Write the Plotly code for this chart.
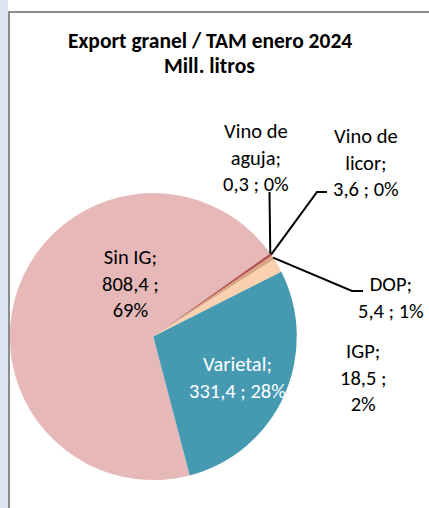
import math
import plotly.graph_objects as go

W, H = 429, 508

# ---- data ----
categories = ["Sin IG", "Vino de aguja", "Vino de licor", "DOP", "IGP", "Varietal"]
values = [808.4, 0.3, 3.6, 5.4, 18.5, 331.4]
percents = [69, 0, 0, 1, 2, 28]
colors = ["#E6B9B8", "#8E3B3B", "#B4504D", "#D9A584", "#F9D0B0", "#4599B1"]

title_lines = ["Export granel / TAM enero 2024", "Mill. litros"]

# label text layout (line breaks) per category
label_tpl = [
    "{n};<br>{v} ;<br>{p}%",
    "Vino de<br>aguja;<br>{v} ; {p}%",
    "Vino de<br>licor;<br>{v} ; {p}%",
    "{n};<br>{v} ; {p}%",
    "{n};<br>{v} ;<br>{p}%",
    "{n};<br>{v} ; {p}%",
]
# label centres in pixels
label_pos = [(130, 283), (256, 157.5), (365.5, 162.5), (391, 297.5), (363, 377), (237.5, 377)]
label_col = ["#000000"] * 5 + ["#FFFFFF"]
# leader-line elbows (pixels): points from label side toward the slice
leaders = {1: [(269.5, 192)], 2: [(327, 192), (317, 192)], 3: [(363, 291), (352, 291)]}

# ---- pie geometry ----
cx, cy, r = 153.3, 336.6, 143.5
rotation = 165.3
dom_x = [(cx - r) / W, (cx + r) / W]
dom_y = [(H - cy - r) / H, (H - cy + r) / H]

FONT = "Carlito, Lato, sans-serif"

fig = go.Figure(go.Pie(
    labels=categories, values=values, sort=False, direction="clockwise",
    rotation=rotation, marker=dict(colors=colors, line=dict(width=0)),
    textinfo="none", hoverinfo="label+value+percent", showlegend=False,
    domain=dict(x=dom_x, y=dom_y),
))

def px(x, y):
    return x / W, 1 - y / H

annotations = []
for i, n in enumerate(categories):
    v = f"{values[i]:.1f}".replace(".", ",")
    txt = label_tpl[i].format(n=n, v=v, p=percents[i])
    ax, ay = px(*label_pos[i])
    annotations.append(dict(x=ax, y=ay, xref="paper", yref="paper", text=txt,
                            showarrow=False, xanchor="center", yanchor="middle",
                            align="center",
                            font=dict(family=FONT, size=20.5, color=label_col[i])))

for line, ty in zip(title_lines, [41, 66]):
    tx, tyy = px(209.5, ty)
    annotations.append(dict(x=tx, y=tyy, xref="paper", yref="paper",
                            text=f"<b>{line}</b>", showarrow=False,
                            xanchor="center", yanchor="middle",
                            font=dict(family=FONT, size=21.5, color="#000000")))

shapes = [
    dict(type="rect", xref="paper", yref="paper", x0=0, x1=8 / W, y0=0, y1=1,
         fillcolor="#DCE6F2", line=dict(width=0), layer="below"),
    dict(type="line", xref="paper", yref="paper", x0=9 / W, x1=9 / W, y0=0, y1=1 - 11 / H,
         line=dict(color="#8C8C8C", width=2)),
    dict(type="line", xref="paper", yref="paper", x0=8 / W, x1=1, y0=1 - 12 / H, y1=1 - 12 / H,
         line=dict(color="#8C8C8C", width=2)),
]

# leader lines: anchor computed at slice mid-angle on the pie edge
total = sum(values)
start = rotation
mids = []
for v in values:
    span = v / total * 360
    mids.append(start + span / 2)
    start += span
for i, pts in leaders.items():
    a = math.radians(mids[i])
    anchor = (cx + r * math.sin(a), cy - r * math.cos(a))
    seq = pts + [anchor]
    path = "M " + " L ".join(f"{x / W:.5f},{1 - y / H:.5f}" for x, y in seq)
    shapes.append(dict(type="path", xref="paper", yref="paper", path=path,
                       line=dict(color="#000000", width=2)))

fig.update_layout(
    width=W, height=H, margin=dict(l=0, r=0, t=0, b=0),
    paper_bgcolor="#FFFFFF", plot_bgcolor="#FFFFFF",
    annotations=annotations, shapes=shapes,
)

fig.write_html(
    "out.html",
    config={"displayModeBar": False},
    post_script="document.body.style.margin='0';document.body.style.padding='0';"
                "document.body.style.overflow='hidden';",
)
